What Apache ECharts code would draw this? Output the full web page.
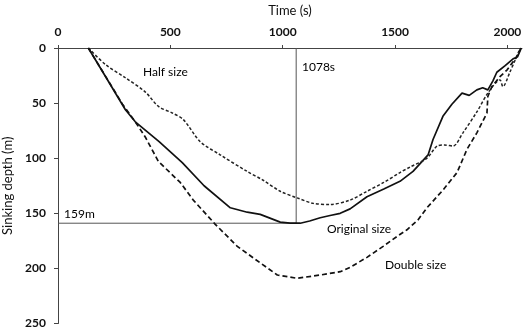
<!DOCTYPE html>
<html><head><meta charset="utf-8">
<script src="https://cdn.jsdelivr.net/npm/echarts@6/dist/echarts.min.js"></script>
<style>html,body{margin:0;padding:0;background:#fff}#c{width:525px;height:336px}</style>
</head><body><div id="c"></div>
<script>
const xTicks = [0, 500, 1000, 1500, 2000];
const yTicks = [0, 50, 100, 150, 200, 250];

const origT = [135, 200, 300, 344, 450, 553, 650, 767, 842, 900, 989, 1033, 1078, 1120, 1167, 1211, 1256, 1300, 1375, 1450, 1522, 1580, 1647, 1669, 1713, 1753, 1798, 1830, 1864, 1890, 1913, 1935, 1953, 1990, 2024, 2045, 2062];
const origD = [0, 22, 56, 67, 85, 104, 125, 145, 149, 151, 158, 159, 159, 157, 154, 152, 150, 146, 135, 128, 121, 112, 97, 83, 62, 51, 41, 43, 38, 36, 38, 30, 22, 16, 10, 8, 0];

const halfT = [135, 211, 300, 389, 447, 509, 558, 633, 722, 842, 913, 989, 1064, 1136, 1211, 1300, 1375, 1450, 1522, 1567, 1642, 1687, 1720, 1758, 1802, 1864, 1913, 1967, 1980, 2011, 2055];
const halfD = [0, 15, 27, 40, 53, 59, 65, 85, 97, 112, 120, 130, 136, 141, 142, 138, 130, 122, 113, 108, 100, 89, 88, 89, 77, 58, 41, 29, 35, 22, 1];

const dblT = [135, 287, 344, 389, 447, 544, 602, 700, 798, 900, 976, 1064, 1167, 1256, 1300, 1375, 1447, 1509, 1553, 1602, 1642, 1713, 1776, 1820, 1864, 1909, 1913, 1931, 1967, 1998, 2042, 2060];
const dblD = [0, 51, 67, 81, 103, 122, 138, 160, 180, 195, 206, 209, 206, 203, 199, 190, 180, 171, 165, 156, 145, 129, 113, 92, 77, 59, 44, 35, 26, 20, 8, 0];

const markT = 1060;
const markD = 159;
const labels = {half: 'Half size', orig: 'Original size', dbl: 'Double size', t: '1078s', d: '159m'};

const zip = (a, b) => a.map((v, i) => [v, b[i]]);
const font = 'Lato, "Open Sans", sans-serif';
const chart = echarts.init(document.getElementById('c'));
const txt = (t, x, y) => ({type: 'text', left: x, top: y, style: {text: t, font: '12px ' + font, fill: '#000'}});
chart.setOption({
  animation: false,
  grid: {left: 58, top: 48, right: 3, bottom: 12.5, containLabel: false, outerBoundsMode: 'none'},
  xAxis: {
    type: 'value', position: 'top', min: 0, max: 2065, interval: 500,
    name: 'Time (s)', nameLocation: 'middle', nameGap: 31,
    nameTextStyle: {fontFamily: font, fontSize: 13, color: '#111'},
    axisLine: {lineStyle: {color: '#444', width: 1}},
    axisTick: {length: 3, lineStyle: {color: '#444'}},
    axisLabel: {fontFamily: font, fontSize: 12, color: '#111', fontWeight: 'bold', margin: 10, showMaxLabel: false,
      formatter: v => xTicks.includes(v) ? String(v) : ''},
    splitLine: {show: false}
  },
  yAxis: {
    type: 'value', inverse: true, min: 0, max: 250, interval: 50,
    name: 'Sinking depth (m)', nameLocation: 'middle', nameGap: 38, nameRotate: 90,
    nameTextStyle: {fontFamily: font, fontSize: 13, color: '#111'},
    axisLine: {show: true, lineStyle: {color: '#444', width: 1}},
    axisTick: {show: true, length: 4, lineStyle: {color: '#444'}},
    axisLabel: {fontFamily: font, fontSize: 12, color: '#111', fontWeight: 'bold', margin: 12,
      formatter: v => yTicks.includes(v) ? String(v) : ''},
    splitLine: {show: false}
  },
  series: [
    {type: 'line', data: [[0, markD], [markT, markD], [markT, 0]], symbol: 'none', lineStyle: {color: '#555', width: 1}, z: 1},
    {type: 'line', name: 'orig', data: zip(origT, origD), symbol: 'none', lineStyle: {color: '#111', width: 1.7}},
    {type: 'line', name: 'half', data: zip(halfT, halfD), symbol: 'none', smooth: 0.3, lineStyle: {color: '#222', width: 1.5, type: [3, 2]}},
    {type: 'line', name: 'dbl', data: zip(dblT, dblD), symbol: 'none', lineStyle: {color: '#111', width: 1.7, type: [5, 3]}}
  ],
  graphic: [
    txt(labels.half, 143, 66),
    txt(labels.t, 302, 61),
    txt(labels.d, 64, 208),
    txt(labels.orig, 327, 223),
    txt(labels.dbl, 385, 259)
  ]
});
</script></body></html>
